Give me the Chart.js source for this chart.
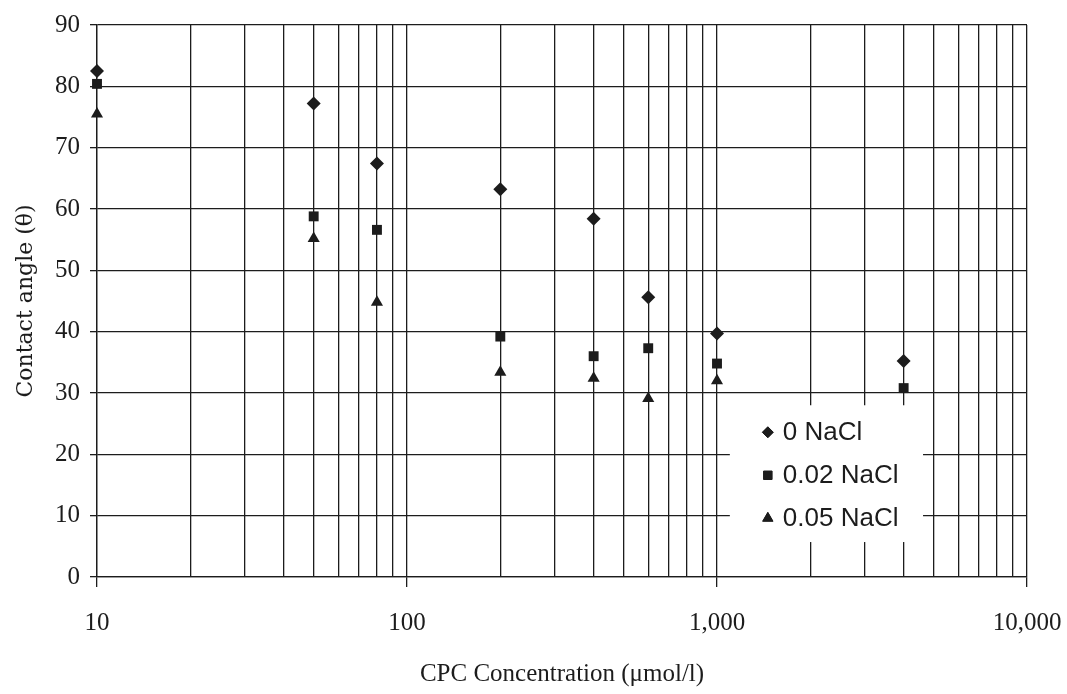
<!DOCTYPE html>
<html>
<head>
<meta charset="utf-8">
<script src="https://cdn.jsdelivr.net/npm/chart.js@4.4.1/dist/chart.umd.min.js"></script>
<style>
  html, body { margin: 0; padding: 0; background: #fff; }
  #wrap { width: 1067px; height: 694px; position: relative; }
</style>
</head>
<body>
<div id="wrap"><canvas id="c" width="1067" height="694"></canvas></div>
<script>
// ---- data ----
const concentrations = [10, 50, 80, 200, 400, 600, 1000, 4000];
const nacl0   = [82.5, 77.2, 67.4, 63.2, 58.4, 45.6, 39.7, 35.2];
const nacl002 = [80.4, 58.8, 56.6, 39.2, 36.0, 37.3, 34.8, 30.8];
const nacl005 = [75.5, 55.2, 44.8, 33.4, 32.4, 29.1, 32.0, null];
const seriesNames = ['0 NaCl', '0.02 NaCl', '0.05 NaCl'];
const xGridValues = [10,20,30,40,50,60,70,80,90,100,200,300,400,500,600,700,800,900,1000,2000,3000,4000,5000,6000,7000,8000,9000,10000];
const xMajor = [10, 100, 1000, 10000];
const xTickLabels = {10: '10', 100: '100', 1000: '1,000', 10000: '10,000'};
const yTicks = [0,10,20,30,40,50,60,70,80,90];
const xTitle = 'CPC Concentration (\u03bcmol/l)';
const yTitle = 'Contact angle (\u03b8)';

const INK = '#1c1c1c';
const toPts = (vals) => concentrations.map((x, i) => ({x: x, y: vals[i]})).filter(p => p.y !== null);

const legendPlugin = {
  id: 'boxLegend',
  afterDatasetsDraw(chart) {
    const ctx = chart.ctx;
    const xs = chart.scales.x, ys = chart.scales.y;
    // legend box anchored in data space
    const left = xs.getPixelForValue(1100), right = xs.getPixelForValue(4620);
    const top = ys.getPixelForValue(28.0), bottom = ys.getPixelForValue(5.7);
    ctx.save();
    ctx.fillStyle = '#fff';
    ctx.fillRect(left, top, right - left, bottom - top);
    ctx.font = '26px "Liberation Sans", Arial, sans-serif';
    ctx.textBaseline = 'middle';
    ctx.textAlign = 'left';
    const styles = ['rectRot', 'rect', 'triangle'];
    const radii = [5.5, 6, 6];
    chart.data.datasets.forEach((ds, i) => {
      const cy = top + 27 + i * 43;
      const mx = left + 38;
      ctx.fillStyle = INK;
      ctx.strokeStyle = INK;
      ctx.lineWidth = 1;
      Chart.helpers.drawPoint(ctx, {pointStyle: styles[i], radius: radii[i], rotation: 0, borderWidth: 1}, mx, cy);
      ctx.fill();
      ctx.fillStyle = INK;
      ctx.fillText(ds.label, left + 53, cy + 1);
    });
    ctx.restore();
  }
};

new Chart(document.getElementById('c'), {
  type: 'scatter',
  data: {
    datasets: [
      {label: seriesNames[0], data: toPts(nacl0), pointStyle: 'rectRot', pointRadius: 7, backgroundColor: INK, borderColor: INK, borderWidth: 0, clip: false},
      {label: seriesNames[1], data: toPts(nacl002), pointStyle: 'rect', pointRadius: 7, backgroundColor: INK, borderColor: INK, borderWidth: 0, clip: false},
      {label: seriesNames[2], data: toPts(nacl005), pointStyle: 'triangle', pointRadius: 7, backgroundColor: INK, borderColor: INK, borderWidth: 0, clip: false}
    ]
  },
  options: {
    responsive: false,
    animation: false,
    devicePixelRatio: 1,
    layout: {padding: {left: 0, right: 40, top: 23, bottom: 0}},
    plugins: {legend: {display: false}, tooltip: {enabled: false}},
    scales: {
      x: {
        type: 'logarithmic',
        min: 10, max: 10000,
        afterBuildTicks: (scale) => { scale.ticks = xGridValues.map(v => ({value: v, major: xMajor.includes(v)})); },
        afterFit: (scale) => { scale.height = 117; scale.paddingLeft = 0; scale.paddingRight = 0; },
        border: {color: INK, width: 1.3},
        grid: {
          color: INK, lineWidth: 1.3, drawTicks: true, tickLength: 10,
          tickColor: (c) => (c.tick && xMajor.includes(c.tick.value)) ? INK : 'rgba(0,0,0,0)'
        },
        ticks: {
          autoSkip: false, maxRotation: 0, padding: 21,
          color: INK,
          font: {family: '"Liberation Serif", "Times New Roman", serif', size: 25},
          callback: (v) => xTickLabels[v] || ''
        },
        title: {display: true, text: xTitle, color: INK, padding: {top: 0, bottom: 5},
          font: {family: '"Liberation Serif", "Times New Roman", serif', size: 25}}
      },
      y: {
        min: 0, max: 90,
        afterBuildTicks: (scale) => { scale.ticks = yTicks.map(v => ({value: v})); },
        afterFit: (scale) => { scale.width = 97; },
        border: {color: INK, width: 1.3},
        grid: {color: INK, lineWidth: 1.3, tickLength: 7, tickColor: INK},
        ticks: {
          padding: 10, color: INK,
          font: {family: '"Liberation Serif", "Times New Roman", serif', size: 25}
        },
        title: {display: true, text: yTitle, color: INK, padding: {top: 13, bottom: 0},
          font: {family: '"DejaVu Serif", serif', size: 22}}
      }
    }
  },
  plugins: [legendPlugin]
});
</script>
</body>
</html>
